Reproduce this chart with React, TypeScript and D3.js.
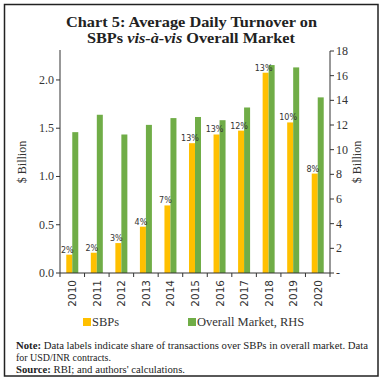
import React from "react";
import * as d3 from "d3";

const years = ["2010","2011","2012","2013","2014","2015","2016","2017","2018","2019","2020"];
const sbps = [0.19, 0.21, 0.31, 0.48, 0.70, 1.345, 1.435, 1.475, 2.075, 1.56, 1.03];
const overall = [11.42, 12.83, 11.23, 12.01, 12.56, 12.65, 12.39, 13.42, 16.86, 16.67, 14.24];
const shareLabels = ["2%","2%","3%","4%","7%","13%","13%","12%","13%","10%","8%"];
const leftTicks = [0, 0.5, 1.0, 1.5, 2.0];
const rightTicks = [0, 2, 4, 6, 8, 10, 12, 14, 16, 18];

const ORANGE = "#FFC000";
const GREEN = "#70AD47";
const SERIF = "'Liberation Serif', 'DejaVu Serif', serif";
const SANS = "'DejaVu Sans', 'Liberation Sans', sans-serif";

export default function App() {
  const W = 384, H = 384;
  const left = 60, right = 330, top = 51, bottom = 273;
  const x = d3.scaleBand<string>().domain(years).range([left, right]).paddingInner(0).paddingOuter(0);
  const yL = d3.scaleLinear().domain([0, 2.3]).range([bottom, top]);
  const yR = d3.scaleLinear().domain([0, 18]).range([bottom, top]);
  const bw = 6;
  const bands = x.bandwidth();
  const boundaries = d3.range(years.length + 1).map(i => left + i * bands);

  return (
    <svg width={W} height={H} style={{ position: "absolute", left: 0, top: 0, background: "#fff" }}>
      <rect x={4.5} y={4.5} width={373.5} height={371.5} fill="#fff" stroke="#222" strokeWidth={1.5} />
      <text x={66} y={27} fontFamily={SERIF} fontWeight="bold" fontSize={15.5} fill="#222"
        textLength={251} lengthAdjust="spacingAndGlyphs">
        Chart 5: Average Daily Turnover on
      </text>
      <text x={87} y={43} fontFamily={SERIF} fontWeight="bold" fontSize={15.5} fill="#222"
        textLength={208} lengthAdjust="spacingAndGlyphs">
        SBPs <tspan fontStyle="italic">vis-à-vis</tspan> Overall Market
      </text>

      {/* bars */}
      {years.map((yr, i) => {
        const cx = (x(yr) as number) + bands / 2;
        return (
          <g key={yr}>
            <rect x={cx - bw} y={yL(sbps[i])} width={bw} height={bottom - yL(sbps[i])} fill={ORANGE} />
            <rect x={cx} y={yR(overall[i])} width={bw} height={bottom - yR(overall[i])} fill={GREEN} />
            <text x={cx - 5} y={yL(sbps[i]) - 2} textAnchor="middle" fontFamily={SANS} fontSize={8} fill="#333">
              {shareLabels[i]}
            </text>
            <text transform={`translate(${cx + 4},${280}) rotate(-90)`} textAnchor="end" fontFamily={SANS} fontSize={10.5} fill="#333">
              {yr}
            </text>
          </g>
        );
      })}

      {/* left axis */}
      <line x1={left} x2={left} y1={50} y2={bottom} stroke="#333" strokeWidth={1} />
      {leftTicks.map(t => (
        <g key={t}>
          <line x1={left - 4} x2={left} y1={yL(t)} y2={yL(t)} stroke="#333" />
          <text x={left - 6} y={yL(t) + 4} textAnchor="end" fontFamily={SERIF} fontSize={12} fill="#333">
            {t.toFixed(1)}
          </text>
        </g>
      ))}
      <text transform={`translate(26,${(top + bottom) / 2}) rotate(-90)`} textAnchor="middle" fontFamily={SERIF} fontSize={12} fill="#333">
        $ Billion
      </text>

      {/* right axis */}
      <line x1={right} x2={right} y1={top} y2={bottom} stroke="#333" strokeWidth={1} />
      {rightTicks.map(t => (
        <g key={t}>
          <line x1={right} x2={right + 4} y1={yR(t)} y2={yR(t)} stroke="#333" />
          <text x={right + 6} y={yR(t) + 4} textAnchor="start" fontFamily={SERIF} fontSize={12} fill="#333">
            {t === 0 ? "-" : t}
          </text>
        </g>
      ))}
      <text transform={`translate(361,${(top + bottom) / 2}) rotate(-90)`} textAnchor="middle" fontFamily={SERIF} fontSize={12} fill="#333">
        $ Billion
      </text>

      {/* x axis */}
      <line x1={left} x2={right} y1={bottom} y2={bottom} stroke="#333" strokeWidth={1} />
      {boundaries.map((b, i) => (
        <line key={i} x1={b} x2={b} y1={bottom} y2={bottom + 4} stroke="#333" />
      ))}

      {/* legend */}
      <rect x={83} y={318} width={8} height={8} fill={ORANGE} />
      <text x={92} y={326} fontFamily={SERIF} fontSize={12.5} fill="#333">SBPs</text>
      <rect x={188} y={318} width={8} height={8} fill={GREEN} />
      <text x={197} y={326} fontFamily={SERIF} fontSize={12.5} fill="#333">Overall Market, RHS</text>

      {/* notes */}
      <text x={16} y={349} fontFamily={SERIF} fontSize={10.5} fill="#222" textLength={352} lengthAdjust="spacingAndGlyphs">
        <tspan fontWeight="bold">Note:</tspan> Data labels indicate share of transactions over SBPs in overall market. Data
      </text>
      <text x={16} y={361} fontFamily={SERIF} fontSize={10.5} fill="#222" textLength={95} lengthAdjust="spacingAndGlyphs">for USD/INR contracts.</text>
      <text x={16} y={373} fontFamily={SERIF} fontSize={10.5} fill="#222" textLength={169} lengthAdjust="spacingAndGlyphs">
        <tspan fontWeight="bold">Source:</tspan> RBI; and authors' calculations.
      </text>
    </svg>
  );
}
